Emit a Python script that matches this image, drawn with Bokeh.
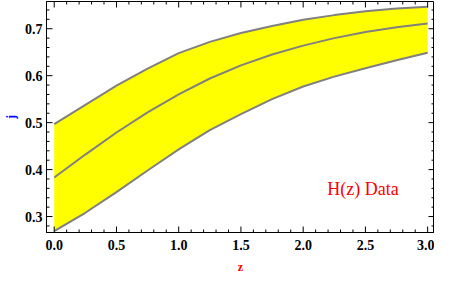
import math
from bokeh.plotting import figure
from bokeh.models import Range1d, FixedTicker, Label, NumeralTickFormatter
from bokeh.embed import file_html
from bokeh.resources import INLINE

z = [0.0, 0.25, 0.5, 0.75, 1.0, 1.25, 1.5, 1.75, 2.0, 2.25, 2.5, 2.75, 3.0]
j_center = [0.383, 0.432, 0.479, 0.522, 0.560, 0.594, 0.622, 0.645, 0.664, 0.680, 0.693, 0.703, 0.711]
j_upper = [0.497, 0.538, 0.579, 0.615, 0.648, 0.672, 0.691, 0.706, 0.719, 0.729, 0.737, 0.743, 0.747]
j_lower = [0.269, 0.308, 0.352, 0.398, 0.443, 0.484, 0.518, 0.550, 0.577, 0.598, 0.616, 0.633, 0.649]
x_ticks = [0.0, 0.5, 1.0, 1.5, 2.0, 2.5, 3.0]
y_ticks = [0.3, 0.4, 0.5, 0.6, 0.7]
x_minor = [round(i * 0.1, 2) for i in range(0, 31) if i % 5 != 0]
y_minor = [round(0.28 + i * 0.02, 2) for i in range(0, 24) if (i + 4) % 5 != 0]

FONT = "Liberation Serif"
X0, X1 = -0.062, 3.055
Y0, Y1 = 0.266, 0.758

p = figure(width=434, height=276, output_backend="svg", toolbar_location=None,
           x_range=Range1d(X0, X1), y_range=Range1d(Y0, Y1),
           min_border_left=36, min_border_right=0, min_border_top=1, min_border_bottom=30)
p.grid.visible = False
p.outline_line_color = "black"
p.outline_line_width = 1

p.varea(x=z, y1=j_lower, y2=j_upper, fill_color="#FFFF00")
for ys in (j_upper, j_center, j_lower):
    p.line(z, ys, line_color="#808080", line_width=2)

# inward ticks on all four sides of the frame
for ticks, L in ((x_ticks, 6), (x_minor, 3)):
    p.ray(x=ticks, y=[Y0] * len(ticks), length=L, length_units="screen",
          angle=math.pi / 2, line_color="black", line_width=1)
    p.ray(x=ticks, y=[Y1] * len(ticks), length=L, length_units="screen",
          angle=-math.pi / 2, line_color="black", line_width=1)
for ticks, L in ((y_ticks, 6), (y_minor, 3)):
    p.ray(x=[X0] * len(ticks), y=ticks, length=L, length_units="screen",
          angle=0, line_color="black", line_width=1)
    p.ray(x=[X1] * len(ticks), y=ticks, length=L, length_units="screen",
          angle=math.pi, line_color="black", line_width=1)

for ax, ticks in ((p.xaxis[0], x_ticks), (p.yaxis[0], y_ticks)):
    ax.ticker = FixedTicker(ticks=ticks)
    ax.major_tick_in = 0
    ax.major_tick_out = 0
    ax.minor_tick_in = 0
    ax.minor_tick_out = 0
    ax.axis_line_color = "black"
    ax.formatter = NumeralTickFormatter(format="0.0")
    ax.major_label_text_font = FONT
    ax.major_label_text_font_style = "bold"
    ax.major_label_text_font_size = "14px"
    ax.major_label_text_color = "black"
    ax.axis_label_text_font = FONT
    ax.axis_label_text_font_style = "bold"
    ax.axis_label_text_font_size = "12px"

p.xaxis[0].major_label_standoff = 7
p.yaxis[0].major_label_standoff = 4
p.xaxis[0].axis_label = "z"
p.xaxis[0].axis_label_text_color = "red"
p.xaxis[0].axis_label_standoff = 7
p.yaxis[0].axis_label = "j"
p.yaxis[0].axis_label_text_color = "blue"
p.yaxis[0].axis_label_standoff = 4

p.add_layout(Label(x=2.48, y=0.358, text="H(z) Data", text_color="red",
                   text_font=FONT, text_font_size="18px",
                   text_align="center", text_baseline="middle"))

open("out.html", "w").write(file_html(p, INLINE))
